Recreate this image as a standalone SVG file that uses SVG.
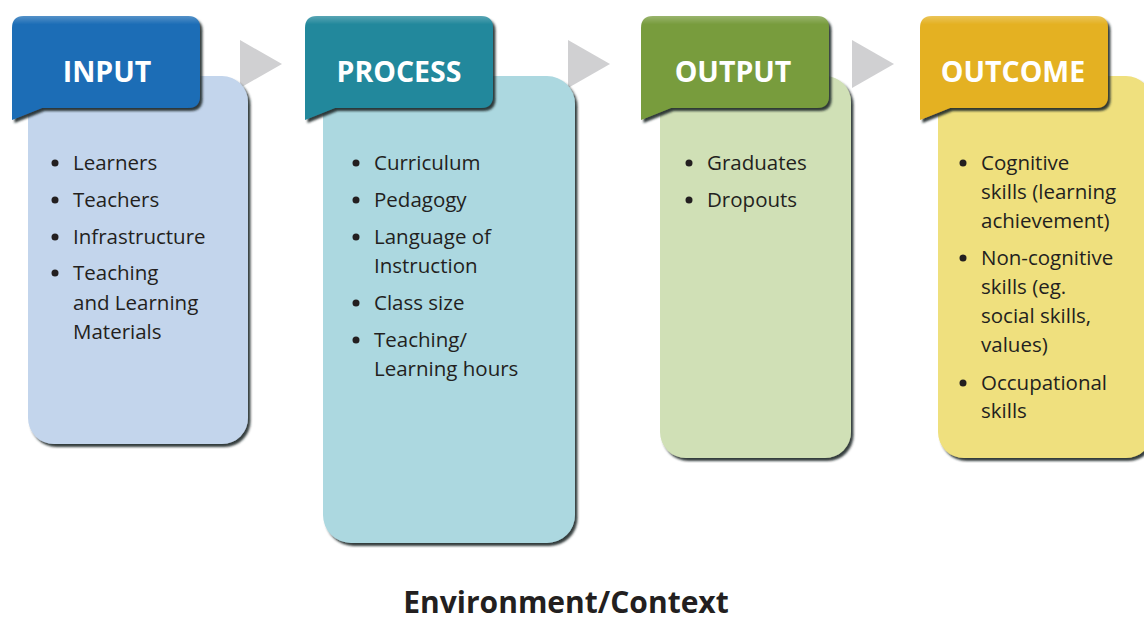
<svg xmlns="http://www.w3.org/2000/svg" width="1144" height="620" viewBox="0 0 1144 620">
<style>
.hdtxt{font-family:"Open Sans","Liberation Sans",sans-serif;font-weight:700;font-size:28.5px;fill:#ffffff;text-anchor:middle}
.item{font-family:"Open Sans","Liberation Sans",sans-serif;font-size:20.5px;fill:#231f20}
.bul{fill:#231f20}
.foot{font-family:"Open Sans","Liberation Sans",sans-serif;font-weight:700;font-size:30px;fill:#231f20;text-anchor:middle}
.arrow{fill:#d0d0d2}
.body{filter:url(#bevel)}
.hdr{filter:url(#bevel)}
</style>
<defs>
<filter id="bevel" x="-5%" y="-5%" width="115%" height="115%">
<feDropShadow dx="2.5" dy="3" stdDeviation="1.2" flood-color="#1c2628" flood-opacity="0.9"/>
</filter>
<linearGradient id="shine" x1="0" y1="0" x2="0" y2="1">
<stop offset="0" stop-color="#ffffff" stop-opacity="0.25"/>
<stop offset="0.08" stop-color="#ffffff" stop-opacity="0"/>
<stop offset="1" stop-color="#ffffff" stop-opacity="0"/>
</linearGradient>
<path id="hshape" d="M0,104 L0,12 Q0,0 12,0 L176,0 Q188,0 188,12 L188,80 Q188,92 176,92 L30,92 Z"/>
</defs>
<rect width="1144" height="620" fill="#ffffff"/>

<g id="connectors">
<polygon class="arrow" points="240,40 282,64 240,88"/>
<polygon class="arrow" points="568,40 610,64 568,88"/>
<polygon class="arrow" points="852,40 894,64 852,88"/>
</g>

<g id="input">
<rect class="body" x="28" y="76" width="220" height="368" rx="26" fill="#c3d5ec"/>
<g transform="translate(12,16)">
<use href="#hshape" class="hdr" fill="#1a6db6"/>
<use href="#hshape" fill="url(#shine)"/>
</g>
<text class="hdtxt" x="107" y="82">INPUT</text>
<circle class="bul" cx="55" cy="163" r="3.5"/><text class="item" x="73" y="170">Learners</text>
<circle class="bul" cx="55" cy="200" r="3.5"/><text class="item" x="73" y="207">Teachers</text>
<circle class="bul" cx="55" cy="237" r="3.5"/><text class="item" x="73" y="244">Infrastructure</text>
<circle class="bul" cx="55" cy="273" r="3.5"/><text class="item" x="73" y="280">Teaching</text>
<text class="item" x="73" y="310">and Learning</text>
<text class="item" x="73" y="339">Materials</text>
</g>

<g id="process">
<rect class="body" x="323" y="76" width="252" height="467" rx="28" fill="#acd8e0"/>
<g transform="translate(305,16)">
<use href="#hshape" class="hdr" fill="#21889c"/>
<use href="#hshape" fill="url(#shine)"/>
</g>
<text class="hdtxt" x="399" y="82">PROCESS</text>
<circle class="bul" cx="356" cy="163" r="3.5"/><text class="item" x="374" y="170">Curriculum</text>
<circle class="bul" cx="356" cy="200" r="3.5"/><text class="item" x="374" y="207">Pedagogy</text>
<circle class="bul" cx="356" cy="237" r="3.5"/><text class="item" x="374" y="244">Language of</text>
<text class="item" x="374" y="273">Instruction</text>
<circle class="bul" cx="356" cy="303" r="3.5"/><text class="item" x="374" y="310">Class size</text>
<circle class="bul" cx="356" cy="340" r="3.5"/><text class="item" x="374" y="347">Teaching/</text>
<text class="item" x="374" y="376">Learning hours</text>
</g>

<g id="output">
<rect class="body" x="660" y="76" width="191" height="382" rx="26" fill="#d0e0b6"/>
<g transform="translate(641,16)">
<use href="#hshape" class="hdr" fill="#789c3e"/>
<use href="#hshape" fill="url(#shine)"/>
</g>
<text class="hdtxt" x="733" y="82">OUTPUT</text>
<circle class="bul" cx="689" cy="163" r="3.5"/><text class="item" x="707" y="170">Graduates</text>
<circle class="bul" cx="689" cy="200" r="3.5"/><text class="item" x="707" y="207">Dropouts</text>
</g>

<g id="outcome">
<rect class="body" x="938" y="76" width="214" height="382" rx="26" fill="#efe07e"/>
<g transform="translate(920,16)">
<use href="#hshape" class="hdr" fill="#e4b121"/>
<use href="#hshape" fill="url(#shine)"/>
</g>
<text class="hdtxt" x="1013" y="82">OUTCOME</text>
<circle class="bul" cx="963" cy="163" r="3.5"/><text class="item" x="981" y="170">Cognitive</text>
<text class="item" x="981" y="199">skills (learning</text>
<text class="item" x="981" y="228">achievement)</text>
<circle class="bul" cx="963" cy="258" r="3.5"/><text class="item" x="981" y="265">Non-cognitive</text>
<text class="item" x="981" y="294">skills (eg.</text>
<text class="item" x="981" y="323">social skills,</text>
<text class="item" x="981" y="352">values)</text>
<circle class="bul" cx="963" cy="383" r="3.5"/><text class="item" x="981" y="390">Occupational</text>
<text class="item" x="981" y="418">skills</text>
</g>

<text class="foot" x="566" y="613">Environment/Context</text>
</svg>
